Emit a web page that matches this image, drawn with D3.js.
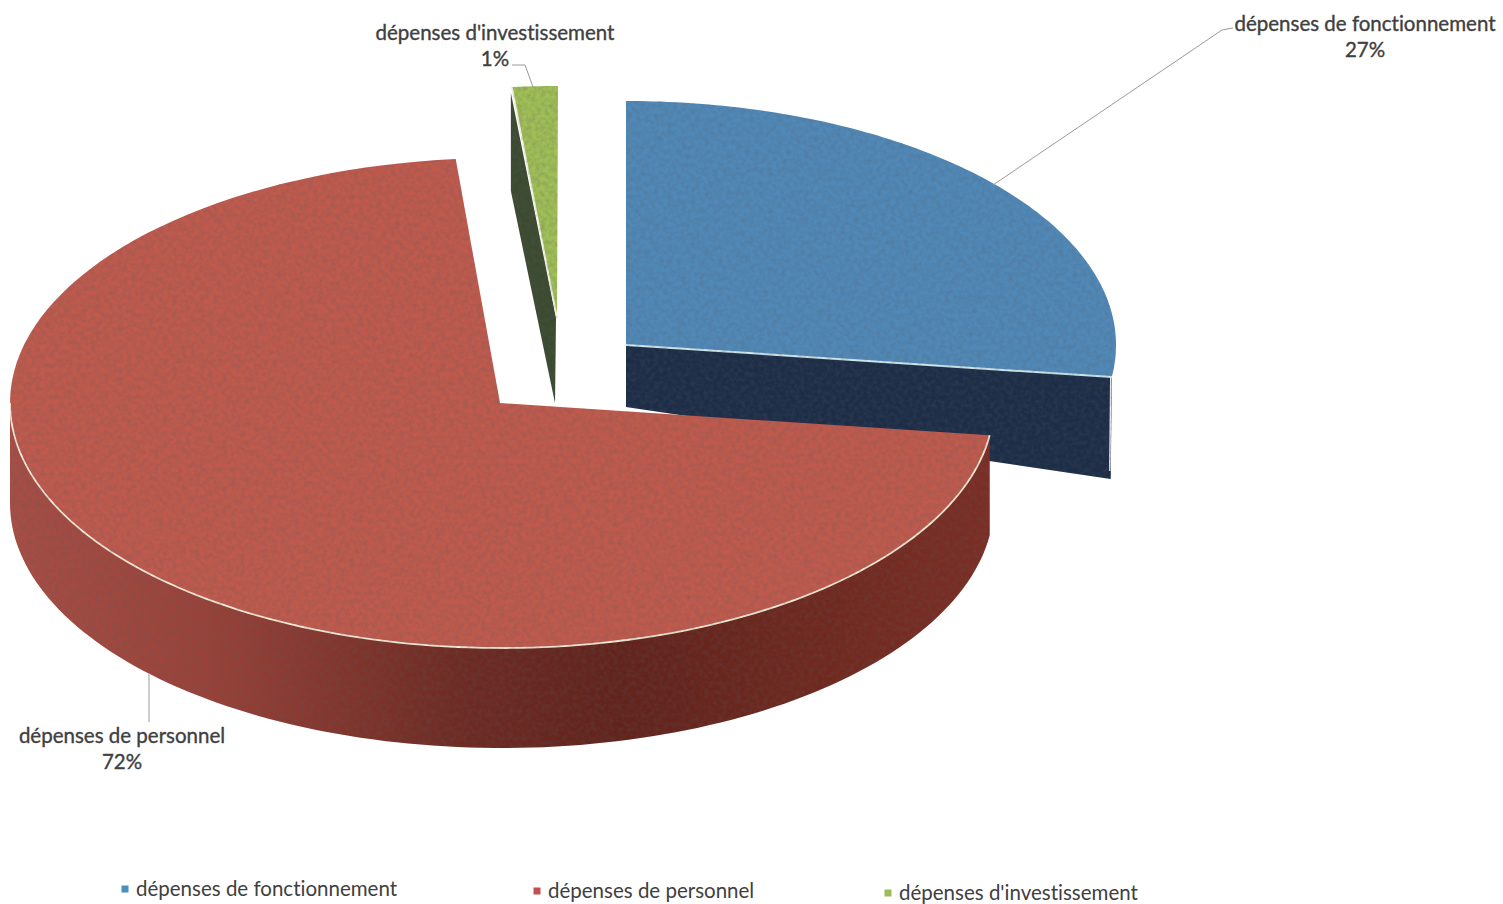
<!DOCTYPE html>
<html lang="fr">
<head>
<meta charset="utf-8">
<script src="https://cdn.jsdelivr.net/npm/d3@7"></script>
<style>
html,body{margin:0;padding:0;background:#fff;overflow:hidden}
svg{display:block}
text{font-family:Lato,"Open Sans",sans-serif;fill:#404040;font-variant-ligatures:none}
.lab text{stroke:#404040;stroke-width:0.35px}
</style>
</head>
<body>
<svg id="chart" width="1503" height="904"></svg>
<script>
// Data (slice sizes estimated from the drawn angles; labels as printed)
const categories = ["dépenses de fonctionnement", "dépenses de personnel", "dépenses d'investissement"];
const values = [27.1, 71.4, 1.5];
const percentLabels = ["27%", "72%", "1%"];
const topColors = ["#5089b8", "#c05a4d", "#a0bf56"];
const legendColors = ["#4a90bd", "#c2504f", "#9dbc55"];

const svg = d3.select("#chart");
const defs = svg.append("defs");

// faint scan-like grain
const f = defs.append("filter").attr("id","grain").attr("x","0").attr("y","0").attr("width","1").attr("height","1")
  .attr("color-interpolation-filters","sRGB");
f.append("feTurbulence").attr("type","fractalNoise").attr("baseFrequency","0.22").attr("numOctaves",3).attr("seed",7).attr("result","n");
f.append("feColorMatrix").attr("in","n").attr("type","matrix")
  .attr("values","0 0 0 0 0.35  0 0 0 0 0.35  0 0 0 0 0.38  0.5 0 0 0 -0.17").attr("result","g");
f.append("feComposite").attr("in","g").attr("in2","SourceAlpha").attr("operator","in").attr("result","gc");
const fm = f.append("feMerge");
fm.append("feMergeNode").attr("in","SourceGraphic");
fm.append("feMergeNode").attr("in","gc");

// red rim gradient
const rg = defs.append("linearGradient").attr("id","redRim").attr("gradientUnits","userSpaceOnUse")
  .attr("x1",10).attr("x2",990).attr("y1",0).attr("y2",0);
[[0,"#a84e45"],[0.2,"#9a4238"],[0.45,"#702b23"],[0.62,"#62231b"],[0.85,"#72291f"],[1,"#7c2e24"]]
  .forEach(s=>rg.append("stop").attr("offset",s[0]).attr("stop-color",s[1]));

const pie = d3.pie().sort(null).value(d=>d).startAngle(0).endAngle(2*Math.PI);
const arcs = pie(values);

// placement of each exploded slice on the tilted plane: (tx,ty) is the slice tip, (cx,cy) the rim centre
const place = [
  {tx:626, ty:345, cx:626, cy:345, rx:490, ry:244, depth:102},
  {tx:500, ty:403, cx:502, cy:403, rx:492, ry:245, depth:100},
  {tx:557, ty:318, cx:558, cy:318, rx:490, ry:232, depth:104, tipDepth:85}
];
const pt = (p,a,dy=0)=>[p.cx+p.rx*Math.sin(a), p.cy-p.ry*Math.cos(a)+dy];
const line = d3.line();
const sample = (a0,a1)=>d3.range(0,121).map(d3.scaleLinear().domain([0,120]).range([a0,a1]));

const chart = svg.append("g").attr("filter","url(#grain)");

// --- blue slice
{
  const p = place[0], a = arcs[0].endAngle;
  const tip=[p.tx,p.ty], rim=pt(p,a);
  chart.append("path").attr("d",line([tip,rim,[rim[0]-1,rim[1]+p.depth],[p.tx,p.ty+62]])+"Z").attr("fill","#1c2d47");
  chart.append("path").attr("d",line([tip,...sample(arcs[0].startAngle,a).map(t=>pt(p,t))])+"Z").attr("fill",topColors[0]);
  chart.append("path").attr("d",line([tip,rim])).attr("fill","none").attr("stroke","#cfe8ee").attr("stroke-width",2);
  chart.append("path").attr("d",line([[rim[0]-1,rim[1]],[rim[0]-2,rim[1]+p.depth-8]])).attr("fill","none").attr("stroke","#f2f5f5").attr("stroke-width",1.4);
}
// --- green slice
{
  const p = place[2], a = arcs[2].startAngle;
  const tip=[p.tx,p.ty], rim=pt(p,a);
  chart.append("path").attr("d",line([[rim[0]-1,rim[1]+6],[rim[0]-1,rim[1]+p.depth],[p.tx-2,p.ty+p.tipDepth],[p.tx-1,p.ty]])+"Z").attr("fill","#3c4b30");
  chart.append("path").attr("d",line([tip,...sample(a,arcs[2].endAngle).map(t=>pt(p,t))])+"Z").attr("fill",topColors[2]);
  chart.append("path").attr("d",line([tip,rim])).attr("fill","none").attr("stroke","#f3f6e6").attr("stroke-width",1.6);
}
// --- red slice
{
  const p = place[1], d = arcs[1];
  const tip=[p.tx,p.ty];
  const rimAngles = sample(d.startAngle, 1.5*Math.PI);
  const up = rimAngles.map(t=>pt(p,t));
  const down = rimAngles.map(t=>pt(p,t,p.depth)).reverse();
  chart.append("path").attr("d",line([...up,...down])+"Z").attr("fill","url(#redRim)");
  const top = sample(d.startAngle,d.endAngle).map(t=>pt(p,t));
  chart.append("path").attr("d",line([tip,...top])+"Z").attr("fill",topColors[1]);
  chart.append("path").attr("d",line(up)).attr("fill","none").attr("stroke","#f6ecd8").attr("stroke-width",1.8);
}

// --- leader lines
const leaders = [
  [[993,185],[1222,30],[1233,28]],
  [[149,673],[149,722]],
  [[533,87],[525,65],[512,65]]
];
svg.append("g").selectAll("path").data(leaders).join("path")
  .attr("d",d=>line(d)).attr("fill","none").attr("stroke","#9a9a9a").attr("stroke-width",1);

// --- data labels
const labelPos = [[1365,24,50],[122,736,762],[495,33,59]];
const labels = svg.append("g").attr("class","lab").attr("font-size",20.5).attr("text-anchor","middle");
categories.forEach((c,i)=>{
  labels.append("text").attr("x",labelPos[i][0]).attr("y",labelPos[i][1]).attr("dy","0.35em").text(c);
  labels.append("text").attr("x",labelPos[i][0]).attr("y",labelPos[i][2]).attr("dy","0.35em").text(percentLabels[i]);
});

// --- legend
const legendPos = [[125,889],[537,891],[888,893]];
const legend = svg.append("g").selectAll("g").data(categories).join("g")
  .attr("transform",(d,i)=>`translate(${legendPos[i][0]},${legendPos[i][1]})`);
legend.append("rect").attr("x",-3.5).attr("y",-3.5).attr("width",7).attr("height",7).attr("fill",(d,i)=>legendColors[i]);
legend.append("text").attr("x",11).attr("dy","0.35em").attr("font-size",20.5).text(d=>d);
</script>
</body>
</html>
